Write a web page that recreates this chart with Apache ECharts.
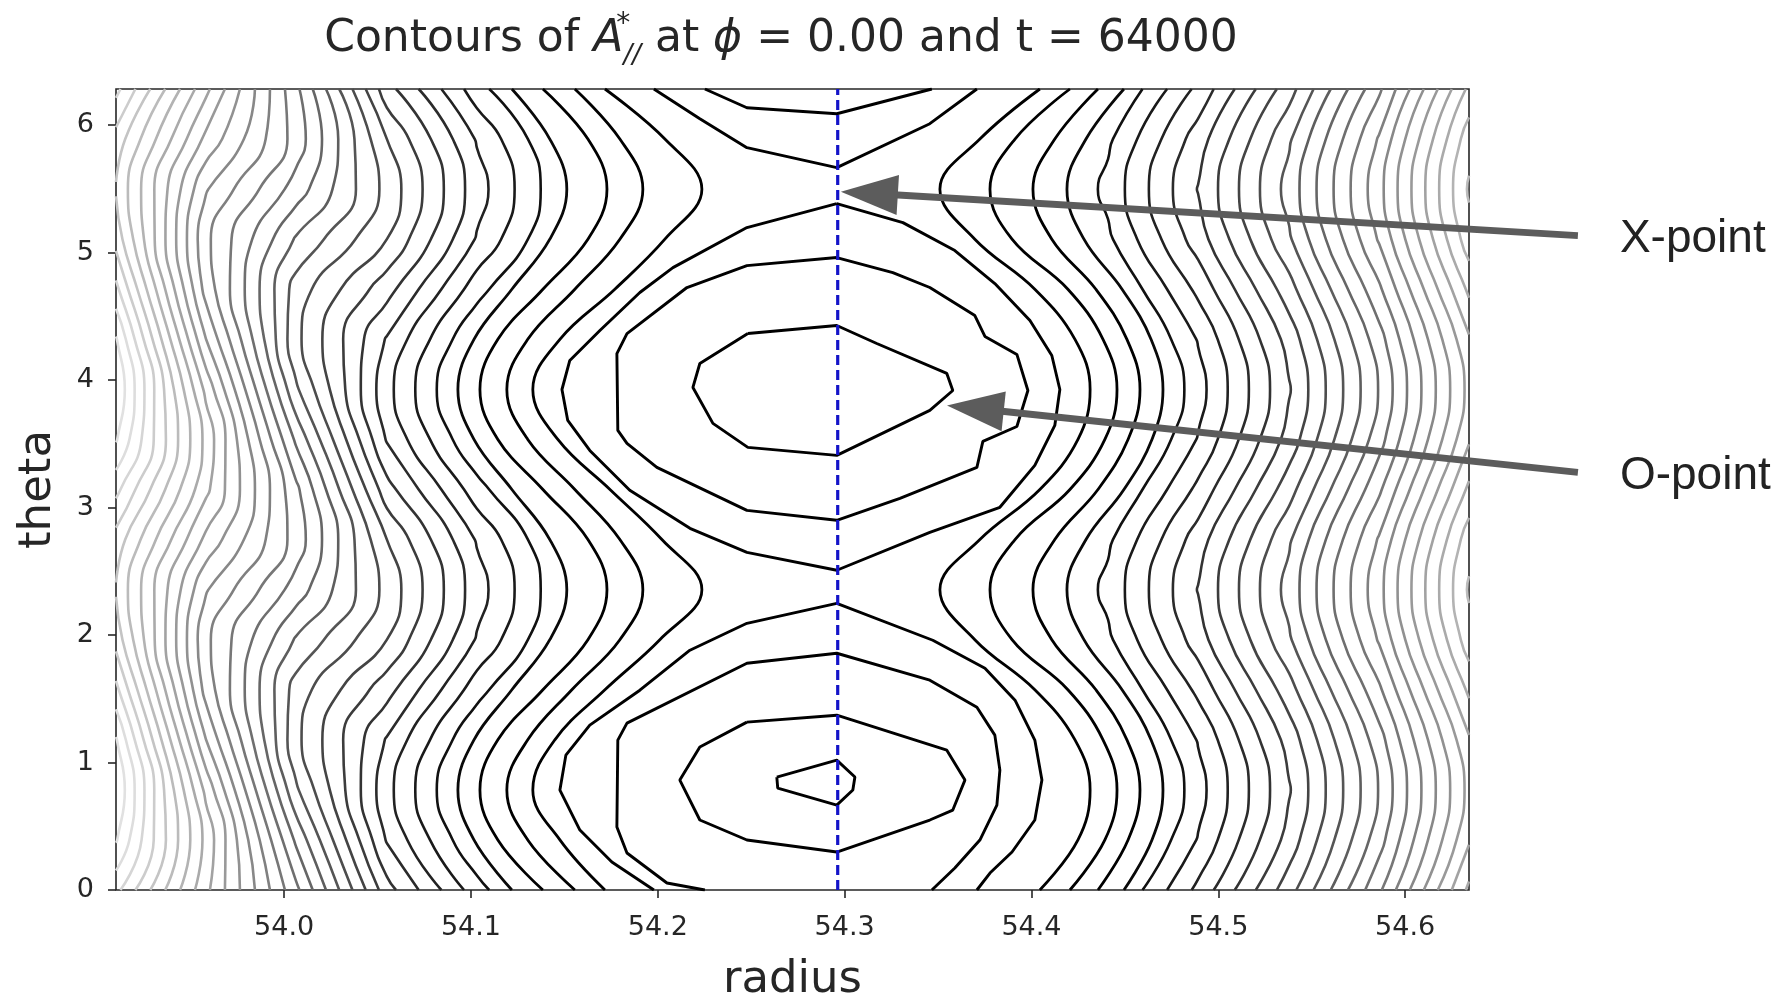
<!DOCTYPE html>
<html>
<head>
<meta charset="utf-8">
<script src="https://cdn.jsdelivr.net/npm/echarts@6/dist/echarts.min.js"></script>
<style>
  html, body { margin: 0; padding: 0; background: #fff; }
  #chart { width: 1783px; height: 996px; }
</style>
</head>
<body>
<div id="chart"></div>
<script>
// theta rows shared by the contour tables (0 .. 2pi, step pi/8)
const thetaRows = [0, 0.3927, 0.7854, 1.1781, 1.5708, 1.9635, 2.3562, 2.7489, 3.1416,
                   3.5343, 3.9270, 4.3197, 4.7124, 5.1051, 5.4978, 5.8905, 6.2832];
const radiusTicks = [54.0, 54.1, 54.2, 54.3, 54.4, 54.5, 54.6];
const thetaTicks = [0, 1, 2, 3, 4, 5, 6];
const cutRadius = 54.2963;   // blue dashed cut

// outer field (contour level at each node), one column per radius, rows = thetaRows[0..15]
const leftRadii = [53.9100, 53.9581, 54.0063, 54.0550, 54.1031, 54.1513];
const leftLevels = [
  [31.3, 33.1, 33.9, 33.1, 31.3, 29.6, 28.9, 29.6, 31.3, 33.1, 33.9, 33.1, 31.3, 29.6, 28.9, 29.6],
  [25.27, 25.72, 24.74, 23.02, 21.62, 21.24, 22.1, 23.75, 25.27, 25.72, 24.74, 23.02, 21.62, 21.24, 22.1, 23.75],
  [19.27, 17.82, 16.18, 15.27, 15.55, 16.89, 18.56, 19.61, 19.27, 17.82, 16.18, 15.27, 15.55, 16.89, 18.56, 19.61],
  [12.4, 10.9, 10.32, 10.9, 12.4, 14.0, 14.68, 14.0, 12.4, 10.9, 10.32, 10.9, 12.4, 14.0, 14.68, 14.0],
  [8.44, 6.94, 6.14, 6.94, 8.44, 9.91, 10.45, 9.91, 8.44, 6.94, 6.14, 6.94, 8.44, 9.91, 10.45, 9.91],
  [5.25, 3.8, 2.8, 3.8, 5.25, 6.55, 7.0, 6.55, 5.25, 3.8, 2.8, 3.8, 5.25, 6.55, 7.0, 6.55]
];
const rightRadii = [54.3928, 54.4410, 54.4892, 54.5379, 54.5861, 54.6342];
const rightLevels = [
  [4.08, 2.5, 1.7, 2.5, 4.08, 5.24, 5.65, 5.24, 4.08, 2.5, 1.7, 2.5, 4.08, 5.24, 5.65, 5.24],
  [6.6, 5.5, 4.67, 5.5, 6.6, 7.8, 8.3, 7.8, 6.6, 5.5, 4.67, 5.5, 6.6, 7.8, 8.3, 7.8],
  [10.26, 9.07, 8.6, 9.07, 10.26, 11.51, 12.05, 11.51, 10.26, 9.07, 8.6, 9.07, 10.26, 11.51, 12.05, 11.51],
  [14.58, 13.39, 12.9, 13.39, 14.58, 15.85, 16.39, 15.85, 14.58, 13.39, 12.9, 13.39, 14.58, 15.85, 16.39, 15.85],
  [19.81, 18.58, 18.06, 18.58, 19.81, 21.12, 21.67, 21.12, 19.81, 18.58, 18.06, 18.58, 19.81, 21.12, 21.67, 21.12],
  [26.23, 24.87, 24.31, 24.87, 26.23, 27.59, 28.15, 27.59, 26.23, 24.87, 24.31, 24.87, 26.23, 27.59, 28.15, 27.59]
];

// open contours next to the islands: radius at each theta row
const openLevels = [4, 5, 6, 7, 4, 5, 6, 7];
const openRadii = [
  [54.1717, 54.1476, 54.1331, 54.1449, 54.1717, 54.2011, 54.2236, 54.2022, 54.1744, 54.1465, 54.1331, 54.1476, 54.1770, 54.2038, 54.2236, 54.2038, 54.1717],
  [54.1556, 54.1304, 54.1192, 54.1304, 54.1540, 54.1797, 54.1920, 54.1797, 54.1556, 54.1304, 54.1192, 54.1304, 54.1556, 54.1797, 54.1920, 54.1797, 54.1556],
  [54.1385, 54.1144, 54.1048, 54.1144, 54.1385, 54.1626, 54.1728, 54.1626, 54.1385, 54.1144, 54.1048, 54.1144, 54.1385, 54.1626, 54.1728, 54.1626, 54.1385],
  [54.1219, 54.1016, 54.0930, 54.1016, 54.1219, 54.1422, 54.1513, 54.1422, 54.1219, 54.1016, 54.0930, 54.1016, 54.1219, 54.1422, 54.1513, 54.1422, 54.1219],
  [54.4045, 54.4249, 54.4314, 54.4233, 54.4018, 54.3697, 54.3510, 54.3724, 54.4045, 54.4249, 54.4314, 54.4233, 54.4018, 54.3697, 54.3510, 54.3724, 54.4045],
  [54.4206, 54.4393, 54.4458, 54.4383, 54.4195, 54.3896, 54.3778, 54.3912, 54.4206, 54.4393, 54.4458, 54.4383, 54.4195, 54.3896, 54.3778, 54.3912, 54.4206],
  [54.4356, 54.4517, 54.4581, 54.4511, 54.4345, 54.4109, 54.4008, 54.4125, 54.4356, 54.4517, 54.4581, 54.4511, 54.4345, 54.4109, 54.4008, 54.4125, 54.4356],
  [54.4495, 54.4645, 54.4704, 54.4640, 54.4485, 54.4281, 54.4190, 54.4292, 54.4495, 54.4645, 54.4704, 54.4640, 54.4485, 54.4281, 54.4190, 54.4292, 54.4495]
];

// island contours [radius, theta]
const islandLevels = [1, 2, 3, 0, 1, 2, 2, 3, 3];
const islandPaths = [
  [[54.2482,4.365],[54.2958,4.428],[54.3172,4.287],[54.3547,4.052],[54.3579,3.918],[54.3456,3.762],[54.2958,3.409],[54.2482,3.472],[54.2295,3.660],[54.2188,3.942],[54.2225,4.130],[54.2482,4.365]],
  [[54.2958,4.961],[54.3258,4.843],[54.3456,4.726],[54.3697,4.506],[54.3751,4.342],[54.3922,4.201],[54.3981,3.918],[54.3922,3.636],[54.3740,3.519],[54.3708,3.315],[54.3296,3.072],[54.2958,2.900],[54.2477,2.978],[54.1995,3.315],[54.1835,3.503],[54.1786,3.605],[54.1781,4.208],[54.1835,4.365],[54.2156,4.726],[54.2477,4.898],[54.2958,4.961]],
  [[54.2958,5.384],[54.3312,5.235],[54.3590,5.016],[54.3804,4.757],[54.3992,4.467],[54.4109,4.193],[54.4152,3.926],[54.4125,3.644],[54.4018,3.331],[54.3831,3.002],[54.3456,2.806],[54.2958,2.508],[54.2477,2.649],[54.2172,2.837],[54.1850,3.135],[54.1636,3.448],[54.1518,3.683],[54.1487,3.926],[54.1529,4.154],[54.1690,4.389],[54.1904,4.687],[54.2081,4.882],[54.2477,5.196],[54.2958,5.384]],
  [[54.2637,0.886],[54.2958,1.019],[54.3055,0.886],[54.3044,0.784],[54.2958,0.666],[54.2642,0.799],[54.2637,0.886]],
  [[54.2477,1.317],[54.2958,1.371],[54.3547,1.097],[54.3644,0.862],[54.3579,0.627],[54.3456,0.549],[54.2958,0.298],[54.2477,0.392],[54.2225,0.549],[54.2118,0.862],[54.2225,1.121],[54.2477,1.317]],
  [[54.2252,0],[54.2049,0.055],[54.1835,0.290],[54.1781,0.494],[54.1786,1.176],[54.1835,1.309],[54.2477,1.779],[54.2958,1.857],[54.3456,1.646],[54.3708,1.434],[54.3804,1.215],[54.3831,0.940],[54.3815,0.666],[54.3724,0.392],[54.3590,0.172],[54.3467,0]],
  [[54.2252,6.2832],[54.2477,6.136],[54.2958,6.089],[54.3467,6.2832]],
  [[54.1979,0],[54.1754,0.219],[54.1583,0.470],[54.1476,0.784],[54.1508,1.058],[54.1636,1.293],[54.1904,1.567],[54.2172,1.881],[54.2477,2.092],[54.2958,2.249],[54.3472,1.959],[54.3751,1.740],[54.3912,1.489],[54.4018,1.176],[54.4056,0.862],[54.4018,0.549],[54.3896,0.298],[54.3778,0.133],[54.3708,0]],
  [[54.1979,6.2832],[54.2225,6.050],[54.2477,5.823],[54.2958,5.666],[54.3456,6.011],[54.3708,6.2832]]
];

// annotations
const annotLabels = ['X-point', 'O-point'];
const annotTips = [[54.298, 5.478], [54.3548, 3.801]];
const annotTails = [[54.6925, 5.133], [54.6925, 3.276]];

// marching squares over a radius x theta table (theta periodic)
function contourField(radii, levels, level) {
  const lv = level + 1e-7;
  const nRow = thetaRows.length - 1;
  const val = (k, j) => levels[k][j % nRow];
  const onRow = (k, j) => {
    const a = val(k, j), b = val(k + 1, j), t = (lv - a) / (b - a);
    return [radii[k] + t * (radii[k + 1] - radii[k]), thetaRows[j]];
  };
  const onCol = (k, j) => {
    const a = val(k, j), b = val(k, j + 1), t = (lv - a) / (b - a);
    return [radii[k], thetaRows[j] + t * (thetaRows[j + 1] - thetaRows[j])];
  };
  const cross = (a, b) => (a - lv) * (b - lv) < 0;
  const segs = [];
  for (let k = 0; k < radii.length - 1; k++) {
    for (let j = 0; j < nRow; j++) {
      const a = val(k, j), b = val(k + 1, j), c = val(k + 1, j + 1), d = val(k, j + 1);
      const pts = [];
      if (cross(a, b)) pts.push(onRow(k, j));
      if (cross(b, c)) pts.push(onCol(k + 1, j));
      if (cross(d, c)) pts.push(onRow(k, j + 1));
      if (cross(a, d)) pts.push(onCol(k, j));
      if (pts.length === 2) segs.push(pts);
      else if (pts.length === 4) {
        const mid = (a + b + c + d) / 4;
        if ((mid > lv) === (a > lv)) { segs.push([pts[0], pts[1]]); segs.push([pts[2], pts[3]]); }
        else { segs.push([pts[0], pts[3]]); segs.push([pts[1], pts[2]]); }
      }
    }
  }
  return joinSegments(segs);
}

function joinSegments(segs) {
  const key = p => p[0].toFixed(7) + ',' + p[1].toFixed(7);
  const byKey = {};
  segs.forEach((s, i) => s.forEach(p => { (byKey[key(p)] = byKey[key(p)] || []).push(i); }));
  const used = segs.map(() => false);
  const lines = [];
  for (let i = 0; i < segs.length; i++) {
    if (used[i]) continue;
    used[i] = true;
    const line = [segs[i][0], segs[i][1]];
    [true, false].forEach(atEnd => {
      let grow = true;
      while (grow) {
        grow = false;
        const p = atEnd ? line[line.length - 1] : line[0];
        for (const si of byKey[key(p)] || []) {
          if (used[si]) continue;
          used[si] = true;
          const q = key(segs[si][0]) === key(p) ? segs[si][1] : segs[si][0];
          if (atEnd) line.push(q); else line.unshift(q);
          grow = true;
          break;
        }
      }
    });
    lines.push(line);
  }
  return lines;
}

// matplotlib-like grey ramp: island levels black, outer levels fading out
function grayOf(level) {
  const g = Math.round(Math.max(0, Math.min(225, (level - 6) * 8.5)));
  return 'rgb(' + g + ',' + g + ',' + g + ')';
}

const series = [];
function addLine(points, level, smooth, width) {
  series.push({
    type: 'line', data: points, showSymbol: false, symbol: 'none', smooth: smooth,
    silent: true, animation: false, z: 2,
    lineStyle: { color: grayOf(level), width: width }
  });
}
for (let L = 8; L <= 34; L++) contourField(leftRadii, leftLevels, L).forEach(p => addLine(p, L, 0.5, 2.6));
for (let L = 8; L <= 29; L++) contourField(rightRadii, rightLevels, L).forEach(p => addLine(p, L, 0.5, 2.6));
openLevels.forEach((L, i) => addLine(thetaRows.map((t, j) => [openRadii[i][j], t]), L, 0.4, 2.8));
islandLevels.forEach((L, i) => addLine(islandPaths[i], L, false, 2.9));
series.push({
  type: 'line', data: [[cutRadius, 0], [cutRadius, 2 * Math.PI]], showSymbol: false, symbol: 'none',
  silent: true, animation: false, z: 5,
  lineStyle: { color: '#1414c8', width: 3.2, type: [10, 5] }
});

const textColor = '#262626';
const chart = echarts.init(document.getElementById('chart'));
chart.setOption({
  animation: false,
  backgroundColor: '#fff',
  grid: {
    left: 116, right: 314, top: 89, bottom: 106, containLabel: false, outerBoundsMode: 'none',
    show: true, borderColor: textColor, borderWidth: 1.6, backgroundColor: 'transparent'
  },
  xAxis: {
    type: 'value', min: 53.91, max: 54.6342,
    name: 'radius', nameLocation: 'middle', nameGap: 68,
    nameTextStyle: { fontFamily: 'DejaVu Sans', fontSize: 45, color: textColor },
    axisLine: { show: false },
    axisTick: { show: true, length: 8, lineStyle: { color: textColor, width: 1.6 }, customValues: radiusTicks },
    axisLabel: { fontFamily: 'DejaVu Sans', fontSize: 27, color: textColor, margin: 24, customValues: radiusTicks, formatter: v => v.toFixed(1) },
    splitLine: { show: false }
  },
  yAxis: {
    type: 'value', min: 0, max: 6.2832,
    name: 'theta', nameLocation: 'middle', nameGap: 55, nameRotate: 90,
    nameTextStyle: { fontFamily: 'DejaVu Sans', fontSize: 45, color: textColor },
    axisLine: { show: false },
    axisTick: { show: true, length: 8, lineStyle: { color: textColor, width: 1.6 }, customValues: thetaTicks },
    axisLabel: { fontFamily: 'DejaVu Sans', fontSize: 27, color: textColor, margin: 22, customValues: thetaTicks, formatter: v => String(Math.round(v)) },
    splitLine: { show: false }
  },
  series: series
});

// title and arrow annotations
const graphics = [{
  type: 'text', x: 781, y: 40, z: 100,
  style: {
    text: 'Contours of {it|A}{sup|*}{sub|//} at {it|ϕ} = 0.00 and t = 64000',
    fontFamily: 'DejaVu Sans', fontSize: 44, fill: textColor, align: 'center', verticalAlign: 'middle', lineHeight: 58,
    rich: {
      it: { fontFamily: 'DejaVu Sans', fontStyle: 'italic', fontSize: 44, lineHeight: 58 },
      sup: { fontFamily: 'DejaVu Sans', fontSize: 28, lineHeight: 26, verticalAlign: 'top', width: 0.1 },
      sub: { fontFamily: 'DejaVu Sans', fontStyle: 'italic', fontSize: 26, lineHeight: 26, verticalAlign: 'bottom' }
    }
  }
}];
const arrowColor = '#5c5c5c';
annotLabels.forEach((label, i) => {
  const tip = chart.convertToPixel({ gridIndex: 0 }, annotTips[i]);
  const tail = chart.convertToPixel({ gridIndex: 0 }, annotTails[i]);
  const dx = tail[0] - tip[0], dy = tail[1] - tip[1];
  const len = Math.sqrt(dx * dx + dy * dy);
  const ux = dx / len, uy = dy / len;
  const base = [tip[0] + ux * 57, tip[1] + uy * 57];
  const nx = -uy * 20, ny = ux * 20;
  graphics.push({ type: 'line', z: 100, shape: { x1: tail[0], y1: tail[1], x2: base[0] - ux * 4, y2: base[1] - uy * 4 }, style: { stroke: arrowColor, lineWidth: 7 } });
  graphics.push({ type: 'polygon', z: 100, shape: { points: [tip, [base[0] + nx, base[1] + ny], [base[0] - nx, base[1] - ny]] }, style: { fill: arrowColor } });
  graphics.push({ type: 'text', z: 100, x: tail[0] + 42, y: tail[1] + 4, style: { text: label, fontFamily: 'Liberation Sans', fontSize: 46, fill: '#222', align: 'left', verticalAlign: 'middle' } });
});
chart.setOption({ graphic: graphics });
</script>
</body>
</html>
